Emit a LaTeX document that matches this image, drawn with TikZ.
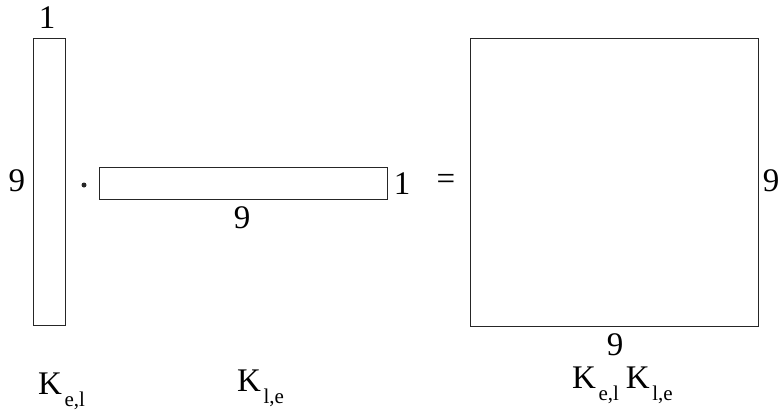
\documentclass[tikz,border=0pt]{standalone}
\usepackage{fontspec}
\setmainfont{Liberation Serif}
\newcommand{\Ksub}[1]{K\kern2.5pt\raisebox{-12pt}{\fontsize{21}{21}\selectfont #1}}
\begin{document}
\begin{tikzpicture}[x=1pt,y=-1pt,
  box/.style={draw=black!85, line width=1pt, inner sep=0pt, fill=none},
  lbl/.style={inner sep=0pt, font=\fontsize{33}{33}\selectfont}]
\useasboundingbox (0,0) rectangle (779,410);
\node[box, minimum width=32pt, minimum height=287pt] (A) at (49,181.5) {};
\node[box, minimum width=288pt, minimum height=32pt] (B) at (243,183) {};
\node[box, minimum width=288pt, minimum height=288pt] (C) at (614,182) {};
\node[lbl] (a1) at (47,18) {1};
\node[lbl] (a9) at (17,181) {9};
\node[circle, fill=black!85, inner sep=0pt, minimum size=5pt] (dot) at (84,185) {};
\node[lbl] (b1) at (402,184) {1};
\node[lbl] (b9) at (242,218) {9};
\node[lbl] (eq) at (446,182) {=};
\node[lbl] (c9r) at (771,181) {9};
\node[lbl] (c9b) at (615,345) {9};
\node[lbl, anchor=base west] (ka) at (38,394) {\Ksub{e,l}};
\node[lbl, anchor=base west] (kb) at (237,391) {\Ksub{l,e}};
\node[lbl, anchor=base west] (kc) at (572,388) {\Ksub{e,l}\kern7pt\Ksub{l,e}};
\end{tikzpicture}
\end{document}
